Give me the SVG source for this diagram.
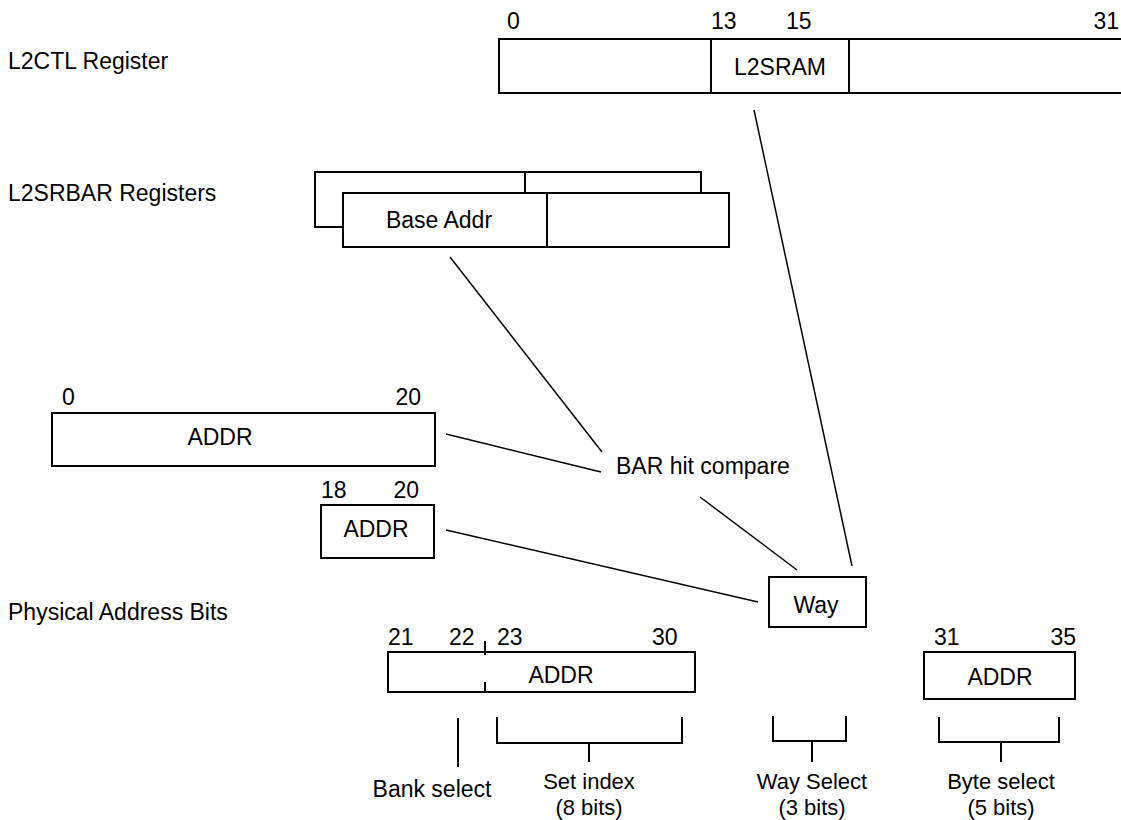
<svg xmlns="http://www.w3.org/2000/svg" width="1121" height="820" viewBox="0 0 1121 820">
<style>
text{font-family:"Liberation Sans",Arial,Helvetica,sans-serif;font-size:23px;fill:#000}
.m{text-anchor:middle}
.e{text-anchor:end}
.s{font-size:22px}
.b{fill:#fff;stroke:#000;stroke-width:2}
.l{fill:none;stroke:#000;stroke-width:2}
.c{fill:none;stroke:#000;stroke-width:1.5}
</style>
<rect width="1121" height="820" fill="#fff"/>
<g id="labels">
<text x="8" y="69">L2CTL Register</text>
<text x="8" y="201">L2SRBAR Registers</text>
<text x="8" y="620">Physical Address Bits</text>
</g>
<g id="l2ctl">
<path class="l" d="M1121,39 H499 V93 H1121 M711,39 V93 M849,39 V93"/>
<text x="507" y="29">0</text>
<text x="711" y="29">13</text>
<text x="786" y="29">15</text>
<text x="1119" y="29" class="e">31</text>
<text x="780" y="75" class="m">L2SRAM</text>
</g>
<g id="l2srbar">
<path class="l" d="M343,227 H315 V172 H701 V193 M525,172 V193"/>
<rect class="b" x="343" y="193" width="386" height="54"/>
<path class="l" d="M547,193 V247"/>
<text x="439" y="228" class="m">Base Addr</text>
</g>
<g id="addr0-20">
<rect class="b" x="52" y="413" width="383" height="53"/>
<text x="62" y="405">0</text>
<text x="421" y="405" class="e">20</text>
<text x="220" y="445" class="m">ADDR</text>
</g>
<g id="bar-hit">
<text x="616" y="474">BAR hit compare</text>
</g>
<g id="addr18-20">
<rect class="b" x="321" y="505" width="113" height="53"/>
<text x="321" y="498">18</text>
<text x="419" y="498" class="e">20</text>
<text x="376" y="537" class="m">ADDR</text>
</g>
<g id="way">
<rect class="b" x="769" y="577" width="97" height="50"/>
<text x="816" y="613" class="m">Way</text>
</g>
<g id="addr21-30">
<path class="l" d="M388,652 H695 V692 H388 Z"/>
<path class="l" d="M485,641 V655 M485,682 V692"/>
<text x="388" y="645">21</text>
<text x="449" y="645">22</text>
<text x="497" y="645">23</text>
<text x="652" y="645">30</text>
<text x="561" y="683" class="m">ADDR</text>
</g>
<g id="addr31-35">
<rect class="b" x="924" y="652" width="151" height="47"/>
<text x="934" y="645">31</text>
<text x="1076" y="645" class="e">35</text>
<text x="1000" y="685" class="m">ADDR</text>
</g>
<g id="bank-select">
<path class="l" d="M458,718 V767"/>
<text x="432" y="797" class="m">Bank select</text>
</g>
<g id="set-index">
<path class="l" d="M497,717 V743 H682 V717 M589,743 V762"/>
<text class="m s" x="589" y="789">Set index</text>
<text class="m s" x="589" y="815">(8 bits)</text>
</g>
<g id="way-select">
<path class="l" d="M773,716 V741 H846 V716 M812,741 V762"/>
<text class="m s" x="812" y="789">Way Select</text>
<text class="m s" x="812" y="815">(3 bits)</text>
</g>
<g id="byte-select">
<path class="l" d="M939,717 V742 H1059 V717 M1001,742 V762"/>
<text class="m s" x="1001" y="789">Byte select</text>
<text class="m s" x="1001" y="815">(5 bits)</text>
</g>
<g id="connectors">
<line class="c" x1="754" y1="110" x2="852" y2="566"/>
<line class="c" x1="450" y1="257" x2="602" y2="452"/>
<line class="c" x1="446" y1="434" x2="601" y2="472"/>
<line class="c" x1="700" y1="497" x2="797" y2="570"/>
<line class="c" x1="446" y1="530" x2="758" y2="602"/>
</g>
</svg>
